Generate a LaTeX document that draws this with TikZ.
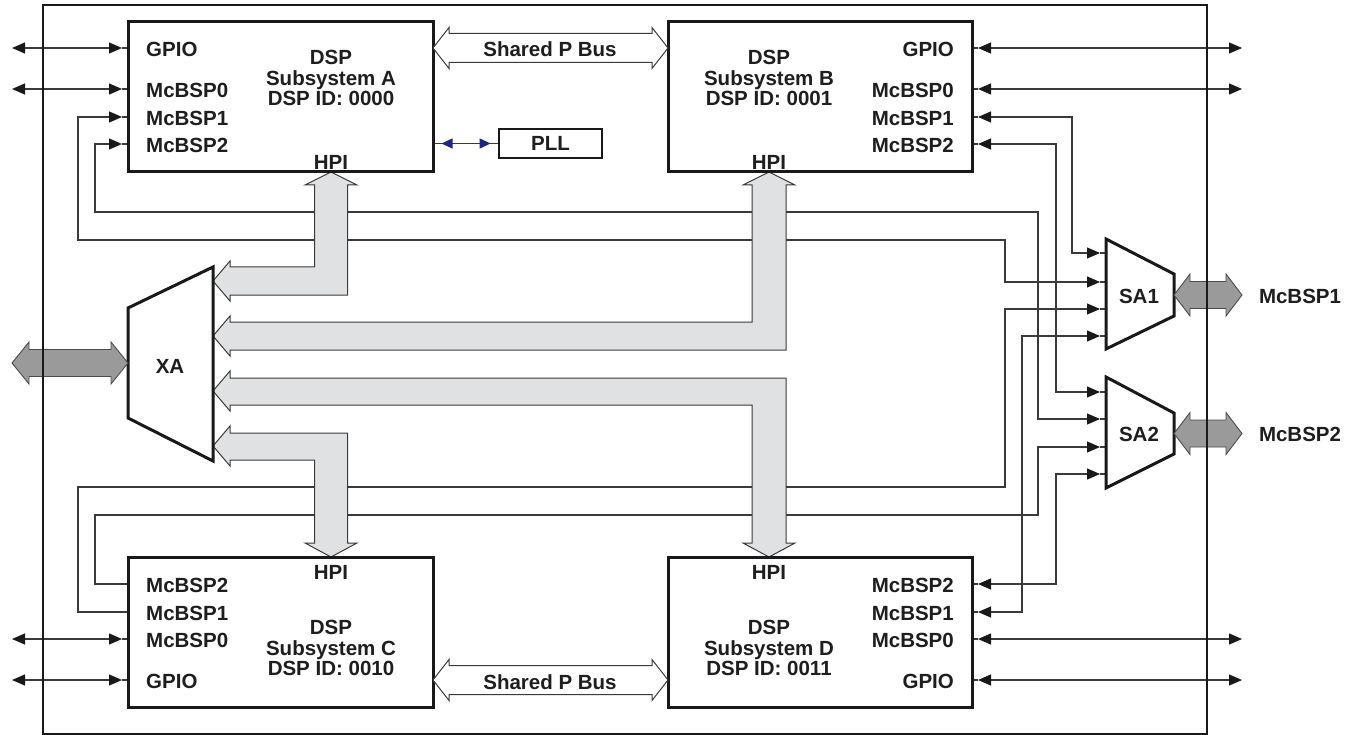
\documentclass[tikz,border=0pt]{standalone}
\usepackage{fontspec}
\setmainfont{Liberation Sans}
\usetikzlibrary{arrows.meta}
\pgfdeclarelayer{wires}
\pgfdeclarelayer{buses}
\pgfdeclarelayer{front}
\pgfsetlayers{wires,buses,main,front}
\definecolor{wirec}{HTML}{3A3A3A}
\definecolor{busfill}{HTML}{E0E1E3}
\definecolor{fatgray}{HTML}{9A9A9A}
\definecolor{pllblue}{HTML}{1F2680}
\definecolor{txt}{HTML}{1E1E1E}
\tikzset{
  wire/.style={draw=wirec, line width=1.2pt},
  dspbox/.style={draw=black!90, line width=3pt, fill=white, minimum width=305pt, minimum height=150pt, inner sep=0pt},
  pllbox/.style={draw=black!90, line width=2.8pt, fill=white, minimum width=103pt, minimum height=29pt, inner sep=0pt, font=\bfseries\fontsize{20.5}{20.5}\selectfont, text=txt},
  lbl/.style={font=\bfseries\fontsize{20.5}{20.5}\selectfont, text=txt, inner sep=0pt},
  blk/.style={lbl, align=center},
  trap/.style={draw=black!90, line width=3pt, fill=white, line join=miter},
  bus/.style={draw=wirec, line width=1pt, fill=busfill, line join=miter},
  fat/.style={draw=black!70, line width=0.9pt, fill=fatgray, line join=miter},
  pbus/.style={draw=wirec, line width=1pt, fill=white, line join=miter},
}
\newcommand\fatdarrow[7]{\draw[#1] (#2,#4) -- (#2+#7,#4-#6) -- (#2+#7,#4-#5) -- (#3-#7,#4-#5) -- (#3-#7,#4-#6) -- (#3,#4) -- (#3-#7,#4+#6) -- (#3-#7,#4+#5) -- (#2+#7,#4+#5) -- (#2+#7,#4+#6) -- cycle;}
\begin{document}
\begin{tikzpicture}[x=1pt,y=-1pt, >={Triangle[length=13pt,width=11pt,color=black!90]}]
\useasboundingbox (0,0) rectangle (1362,735);

% ---- DSP boxes
\node[dspbox] (A) at (280.5,97) {};
\node[dspbox, minimum width=304pt] (B) at (820,97) {};
\node[dspbox] (C) at (280.5,632) {};
\node[dspbox, minimum width=304pt] (D) at (820,632) {};
\node[pllbox] (PLL) at (550.5,143.5) {PLL};

% ---- box texts
\node[lbl, anchor=west] (A-l1) at (146,49) {GPIO};
\node[lbl, anchor=west] (A-l2) at (146,90) {McBSP0};
\node[lbl, anchor=west] (A-l3) at (146,118) {McBSP1};
\node[lbl, anchor=west] (A-l4) at (146,145) {McBSP2};
\node[lbl] (A-hpi) at (331,162) {HPI};
\node[blk] (A-t) at (331,78) {DSP\\Subsystem A\\DSP ID: 0000};

\node[lbl, anchor=east] (B-l1) at (954,49) {GPIO};
\node[lbl, anchor=east] (B-l2) at (954,90) {McBSP0};
\node[lbl, anchor=east] (B-l3) at (954,118) {McBSP1};
\node[lbl, anchor=east] (B-l4) at (954,145) {McBSP2};
\node[lbl] (B-hpi) at (769,162) {HPI};
\node[blk] (B-t) at (769,78) {DSP\\Subsystem B\\DSP ID: 0001};

\node[lbl, anchor=west] (C-l1) at (146,585) {McBSP2};
\node[lbl, anchor=west] (C-l2) at (146,613) {McBSP1};
\node[lbl, anchor=west] (C-l3) at (146,640) {McBSP0};
\node[lbl, anchor=west] (C-l4) at (146,681) {GPIO};
\node[lbl] (C-hpi) at (331,572) {HPI};
\node[blk] (C-t) at (331,648) {DSP\\Subsystem C\\DSP ID: 0010};

\node[lbl, anchor=east] (D-l1) at (954,585) {McBSP2};
\node[lbl, anchor=east] (D-l2) at (954,613) {McBSP1};
\node[lbl, anchor=east] (D-l3) at (954,640) {McBSP0};
\node[lbl, anchor=east] (D-l4) at (954,681) {GPIO};
\node[lbl] (D-hpi) at (769,572) {HPI};
\node[blk] (D-t) at (769,648) {DSP\\Subsystem D\\DSP ID: 0011};

% ---- switch blocks
\draw[trap] (1106,239) -- (1174,274) -- (1174,316) -- (1106,349) -- cycle;
\draw[trap] (1106,377) -- (1174,413) -- (1174,454) -- (1106,488) -- cycle;
\draw[trap] (128,308) -- (213,267) -- (213,461) -- (128,418) -- cycle;
\node[lbl] (SA1) at (1139,296) {SA1};
\node[lbl] (SA2) at (1139,434) {SA2};
\node[lbl] (XA) at (170,366) {XA};
\coordinate (SAw) at (1106,300);

% ---- fat arrows
\fatdarrow{fat}{1174}{1242}{295}{13.5}{21}{16}
\fatdarrow{fat}{1174}{1242}{433.5}{13.5}{21}{16}
\fatdarrow{fat}{12}{128}{363}{13.5}{21}{17}
\node[lbl] (O1) at (1300,296) {McBSP1};
\node[lbl] (O2) at (1300,434) {McBSP2};

% ---- shared P buses
\fatdarrow{pbus}{433}{668}{48}{14.5}{20.5}{16}
\fatdarrow{pbus}{433}{668}{680}{14.5}{20.5}{16}
\node[lbl] (P1) at (550,49) {Shared P Bus};
\node[lbl] (P2) at (550,682) {Shared P Bus};

% ---- coordinates
\coordinate (oA1) at (12,48);   \coordinate (oA2) at (12,89);
\coordinate (oC1) at (12,639);  \coordinate (oC2) at (12,680);
\coordinate (oB1) at (1242,48); \coordinate (oB2) at (1242,89);
\coordinate (oD1) at (1242,639);\coordinate (oD2) at (1242,680);
\coordinate (A-gpio) at (122,48); \coordinate (A-m0) at (122,89);
\coordinate (A-m1) at (122,117);  \coordinate (A-m2) at (122,144);
\coordinate (B-gpio) at (978,48); \coordinate (B-m0) at (978,89);
\coordinate (B-m1) at (978,117);  \coordinate (B-m2) at (978,144);
\coordinate (C-m2) at (128,584);  \coordinate (C-m1) at (128,612);
\coordinate (C-m0) at (122,639);  \coordinate (C-gpio) at (122,680);
\coordinate (D-m2) at (978,584);  \coordinate (D-m1) at (978,612);
\coordinate (D-m0) at (978,639);  \coordinate (D-gpio) at (978,680);
\coordinate (S1a) at (1100,253); \coordinate (S1b) at (1100,282);
\coordinate (S1c) at (1100,309); \coordinate (S1d) at (1100,336);
\coordinate (S2a) at (1100,392); \coordinate (S2b) at (1100,419);
\coordinate (S2c) at (1100,447); \coordinate (S2d) at (1100,474);

% ---- wires
\begin{pgfonlayer}{wires}
\draw[wire,<->] (oA1) -- (A-gpio);
\draw[wire,<->] (oA2) -- (A-m0);
\draw[wire,<->] (oC1) -- (C-m0);
\draw[wire,<->] (oC2) -- (C-gpio);
\draw[wire,<->] (B-gpio) -- (oB1);
\draw[wire,<->] (B-m0) -- (oB2);
\draw[wire,<->] (D-m0) -- (oD1);
\draw[wire,<->] (D-gpio) -- (oD2);
\draw[wire,<->] (A-m1) -| (78,240) -| (1005,282) -- (S1b);
\draw[wire,<->] (A-m2) -| (95,212) -| (1038,419) -- (S2b);
\draw[wire,<->] (B-m1) -| (1072,253) -- (S1a);
\draw[wire,<->] (B-m2) -| (1056,392) -- (S2a);
\draw[wire,->] (C-m1) -| (78,487) -| (1005,309) -- (S1c);
\draw[wire,->] (C-m2) -| (95,515) -| (1038,447) -- (S2c);
\draw[wire,<->] (D-m1) -| (1022,336) -- (S1d);
\draw[wire,<->] (D-m2) -| (1056,474) -- (S2d);
\foreach \p in {A-gpio,A-m0,A-m1,A-m2,C-m0,C-gpio} \draw[wire] (\p) -- (\p -| A.west);
\foreach \p in {B-gpio,B-m0,B-m1,B-m2,D-m0,D-gpio,D-m1,D-m2} \draw[wire] (\p) -- (\p -| B.east);
\foreach \p in {S1a,S1b,S1c,S1d,S2a,S2b,S2c,S2d} \draw[wire] (\p) -- (\p -| SAw);
\draw[wire] (A.east |- PLL) -- (PLL.west);
\draw[wire, {Triangle[length=11pt,width=10pt,color=pllblue]}-{Triangle[length=11pt,width=10pt,color=pllblue]}, shorten <=7pt, shorten >=7pt] (A.east |- PLL) -- (PLL.west);
\end{pgfonlayer}

% ---- HPI buses
\begin{pgfonlayer}{buses}
\draw[bus] (331,172) -- (357,185) -- (347.5,185) -- (347.5,295) -- (230,295) -- (230,301) -- (213,281) -- (230,261) -- (230,267) -- (314.5,267) -- (314.5,185) -- (305,185) -- cycle;
\draw[bus] (769,172) -- (795,185) -- (786,185) -- (786,350) -- (230,350) -- (230,356) -- (213,336) -- (230,316) -- (230,322) -- (752,322) -- (752,185) -- (743,185) -- cycle;
\draw[bus] (213,391) -- (230,371) -- (230,378) -- (786,378) -- (786,543) -- (795,543) -- (769,557) -- (743,543) -- (752,543) -- (752,405) -- (230,405) -- (230,411) -- cycle;
\draw[bus] (213,446) -- (230,426) -- (230,433) -- (347.5,433) -- (347.5,543) -- (357,543) -- (331,557) -- (305,543) -- (314.5,543) -- (314.5,460) -- (230,460) -- (230,466) -- cycle;
\end{pgfonlayer}

% ---- outer frame
\begin{pgfonlayer}{front}
\draw[line width=2pt, draw=black!90] (43,5) rectangle (1207,733.5);
\end{pgfonlayer}
\end{tikzpicture}
\end{document}
